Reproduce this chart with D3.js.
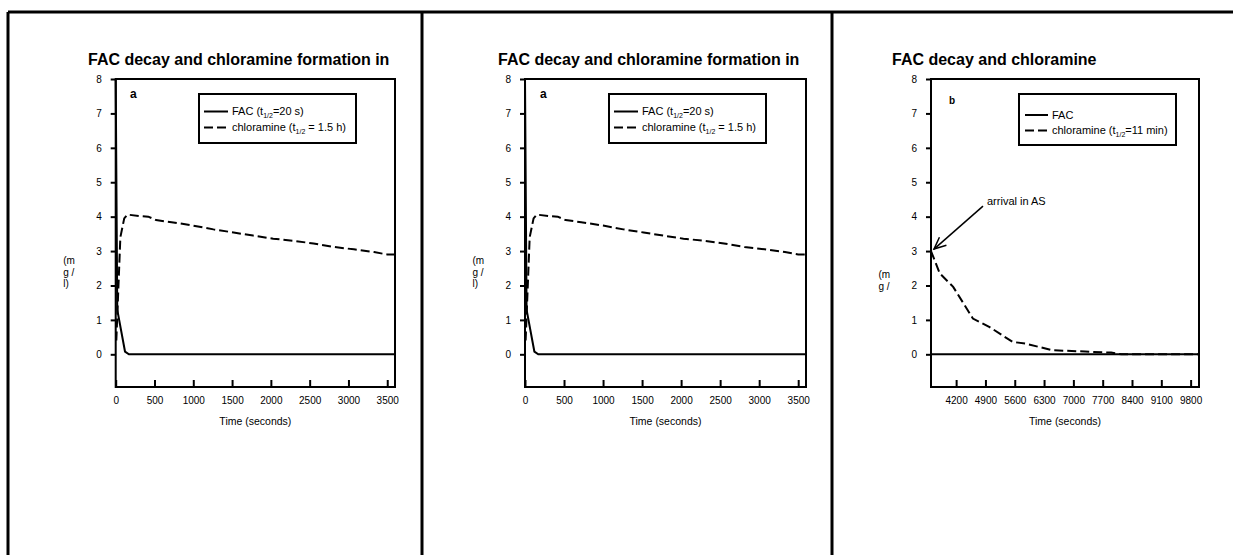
<!DOCTYPE html>
<head>
  <meta charset="UTF-8">
  <script src="https://d3js.org/d3.v7.min.js"></script>
  <title>FAC decay and chloramine formation</title>
  <style>
    body { margin: 0; background: #fff; }
    svg text { font-family: "Liberation Sans", Arial, Helvetica, sans-serif; fill: #000; }
  </style>
</head>
<body>
  <svg id="chart"></svg>
  <script>

    var width = 1233;
    var height = 555;

    // panel a: first hour
    var facA = [[0, 8], [20, 1.3], [120, 0.08], [170, 0], [3600, 0]];
    var chlorA = [[8, 0.4], [60, 3.4], [110, 3.95], [150, 4.06], [300, 4.02], [420, 4.0],
                  [520, 3.9], [720, 3.84], [1000, 3.74], [1260, 3.63], [1520, 3.54],
                  [1770, 3.45], [2030, 3.36], [2290, 3.3], [2550, 3.22], [2810, 3.12],
                  [3070, 3.05], [3330, 2.97], [3500, 2.9], [3600, 2.9]];
    var xTicksA = [0, 500, 1000, 1500, 2000, 2500, 3000, 3500];

    // panel b: after arrival in AS
    var facB = [[3600, 0], [10000, 0]];
    var chlorB = [[3600, 3.0], [3810, 2.35], [4130, 1.96], [4600, 1.04], [5000, 0.79],
                  [5550, 0.36], [5860, 0.31], [6490, 0.12], [7280, 0.08], [7900, 0.05],
                  [8150, 0], [10000, 0]];
    var xTicksB = [4200, 4900, 5600, 6300, 7000, 7700, 8400, 9100, 9800];

    var yTicks = [0, 1, 2, 3, 4, 5, 6, 7, 8];

    var svg = d3.select("#chart")
        .attr("width", width)
        .attr("height", height);

    svg.append("rect").attr("width", width).attr("height", height).attr("fill", "#fff");

    // table borders
    svg.append("line").attr("x1", 8).attr("x2", width).attr("y1", 12).attr("y2", 12)
        .attr("stroke", "#000").attr("stroke-width", 3);
    [8, 422, 832].forEach(function(x) {
        svg.append("line").attr("x1", x).attr("x2", x).attr("y1", 12).attr("y2", height)
            .attr("stroke", "#000").attr("stroke-width", 3);
    });

    var panels = [
        {left: 115.7, right: 395, domain: [0, 3600], ticks: xTicksA, fac: facA, chlor: chlorA,
         title: "FAC decay and chloramine formation in", titleX: 88, tag: "a", tagX: 130, tagY: 98, tagSize: 12,
         legend: {x: 199, y: 94, w: 157, h: 49, ly1: 111.5, ly2: 127.5, sx: 204, sw: 24, tx: 232,
                  first: ["FAC (t", "1/2", "=20 s)"], second: ["chloramine (t", "1/2", " = 1.5 h)"]},
         yLab: ["(m", "g /", "l)"], arrow: false},
        {left: 525, right: 806, domain: [0, 3600], ticks: xTicksA, fac: facA, chlor: chlorA,
         title: "FAC decay and chloramine formation in", titleX: 498, tag: "a", tagX: 540, tagY: 98, tagSize: 12,
         legend: {x: 609, y: 94, w: 157, h: 49, ly1: 111.5, ly2: 127.5, sx: 614, sw: 24, tx: 642,
                  first: ["FAC (t", "1/2", "=20 s)"], second: ["chloramine (t", "1/2", " = 1.5 h)"]},
         yLab: ["(m", "g /", "l)"], arrow: false},
        {left: 931, right: 1199, domain: [3600, 10000], ticks: xTicksB, fac: facB, chlor: chlorB,
         title: "FAC decay and chloramine", titleX: 892, tag: "b", tagX: 949, tagY: 104, tagSize: 10,
         legend: {x: 1019, y: 94, w: 157, h: 51, ly1: 115, ly2: 130.5, sx: 1025, sw: 23, tx: 1052,
                  first: ["FAC"], second: ["chloramine (t", "1/2", "=11 min)"]},
         yLab: ["(m", "g /"], arrow: true}
    ];

    var plotTop = 79, plotBottom = 387;

    panels.forEach(function(p) {
        var g = svg.append("g");

        var x = d3.scaleLinear().domain(p.domain).range([p.left, p.right]);
        var y = d3.scaleLinear().domain([-0.95, 8]).range([plotBottom, plotTop]);

        g.append("text")
            .attr("x", p.titleX).attr("y", 65)
            .attr("font-size", 16).attr("font-weight", "bold")
            .text(p.title);

        var line = d3.line()
            .x(function(d) { return x(d[0]); })
            .y(function(d) { return y(d[1]); });

        g.append("path").datum(p.chlor)
            .attr("d", line).attr("fill", "none")
            .attr("stroke", "#000").attr("stroke-width", 2)
            .attr("stroke-dasharray", "9,4");

        g.append("path").datum(p.fac)
            .attr("d", line).attr("fill", "none")
            .attr("stroke", "#000").attr("stroke-width", 2);

        // frame
        g.append("rect")
            .attr("x", p.left).attr("y", plotTop)
            .attr("width", p.right - p.left).attr("height", plotBottom - plotTop)
            .attr("fill", "none").attr("stroke", "#000").attr("stroke-width", 2);

        var yAxis = g.append("g")
            .attr("transform", "translate(" + p.left + ",0)")
            .call(d3.axisLeft(y).tickValues(yTicks).tickSize(5).tickPadding(9).tickFormat(d3.format("d")));

        var xAxis = g.append("g")
            .attr("transform", "translate(0," + plotBottom + ")")
            .call(d3.axisBottom(x).tickValues(p.ticks).tickSize(-7).tickPadding(10).tickFormat(d3.format("d")));

        [yAxis, xAxis].forEach(function(a) {
            a.select(".domain").remove();
            a.selectAll(".tick line").attr("stroke", "#000").attr("stroke-width", 2);
            a.selectAll(".tick text").attr("font-size", 10)
                .attr("font-family", "'Liberation Sans', Arial, sans-serif");
        });

        g.append("text")
            .attr("x", (p.left + p.right) / 2).attr("y", 425)
            .attr("text-anchor", "middle").attr("font-size", 10.5)
            .text("Time (seconds)");

        p.yLab.forEach(function(s, i) {
            g.append("text")
                .attr("x", p.left - 52.5).attr("y", (p.arrow ? 278 : 264) + i * 11.5)
                .attr("font-size", 10)
                .text(s);
        });

        g.append("text")
            .attr("x", p.tagX).attr("y", p.tagY)
            .attr("font-size", p.tagSize).attr("font-weight", "bold")
            .text(p.tag);

        // legend
        var L = p.legend;
        g.append("rect")
            .attr("x", L.x).attr("y", L.y).attr("width", L.w).attr("height", L.h)
            .attr("fill", "#fff").attr("stroke", "#000").attr("stroke-width", 2);
        g.append("line")
            .attr("x1", L.sx).attr("x2", L.sx + L.sw).attr("y1", L.ly1).attr("y2", L.ly1)
            .attr("stroke", "#000").attr("stroke-width", 2);
        g.append("line")
            .attr("x1", L.sx).attr("x2", L.sx + L.sw).attr("y1", L.ly2).attr("y2", L.ly2)
            .attr("stroke", "#000").attr("stroke-width", 2)
            .attr("stroke-dasharray", "9,4");

        [[L.first, L.ly1], [L.second, L.ly2]].forEach(function(e) {
            var t = g.append("text")
                .attr("x", L.tx).attr("y", e[1] + 3.5)
                .attr("font-size", 11);
            t.append("tspan").text(e[0][0]);
            if (e[0].length > 1) {
                t.append("tspan").attr("font-size", 7).attr("dy", 3).text(e[0][1]);
                t.append("tspan").attr("dy", -3).text(e[0][2]);
            }
        });

        if (p.arrow) {
            var tipX = x(3600) + 3, tipY = y(3) - 2;
            var tailX = tipX + 49, tailY = tipY - 43;
            var ang = Math.atan2(tailY - tipY, tailX - tipX);
            var a1 = ang + 0.42, a2 = ang - 0.42, len = 13;
            g.append("line")
                .attr("x1", tailX).attr("y1", tailY).attr("x2", tipX).attr("y2", tipY)
                .attr("stroke", "#000").attr("stroke-width", 1.5);
            g.append("path")
                .attr("d", "M" + (tipX + len * Math.cos(a1)) + "," + (tipY + len * Math.sin(a1)) +
                    "L" + tipX + "," + tipY +
                    "L" + (tipX + len * Math.cos(a2)) + "," + (tipY + len * Math.sin(a2)))
                .attr("fill", "none").attr("stroke", "#000").attr("stroke-width", 1.5);
            g.append("text")
                .attr("x", tailX + 4).attr("y", tailY - 1)
                .attr("font-size", 11)
                .text("arrival in AS");
        }
    });

  </script>
</body>
</html>
